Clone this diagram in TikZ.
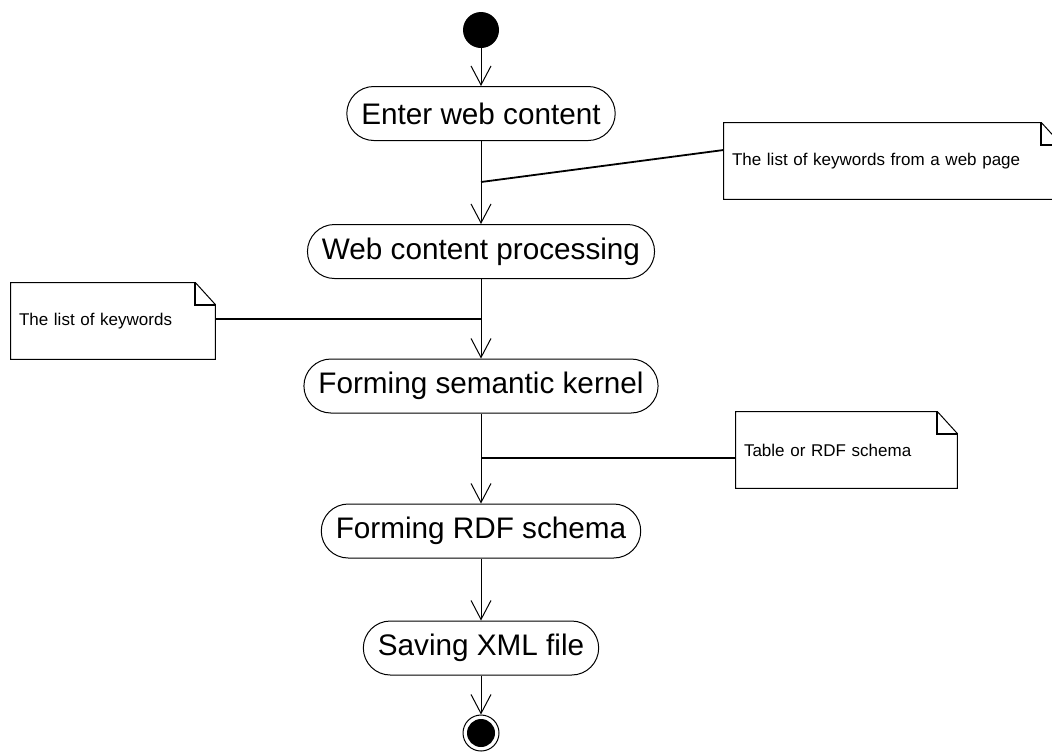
\documentclass[tikz,border=0pt]{standalone}
\usepackage{fontspec}
\setmainfont{Liberation Sans}
\usetikzlibrary{arrows.meta}
\usetikzlibrary{positioning}

\begin{document}
\begin{tikzpicture}[x=0.5pt,y=-0.5pt,>={Straight Barb[length=9.5pt,width=10pt]},
  act/.style={draw,line width=0.5pt,rounded corners=13.5pt,minimum height=27pt,inner xsep=7.25pt,
    font=\fontsize{14.85pt}{17pt}\selectfont},
  note/.style={inner xsep=4pt,inner ysep=0pt,minimum height=38pt,align=left,
    font=\fontsize{8.5pt}{10pt}\selectfont},
  flow/.style={->,line width=0.5pt},
  link/.style={line width=0.9pt}]
  \useasboundingbox (0,0) rectangle (1052,751);
  \clip (0,0) rectangle (1052,751);

  % start and end states
  \node[circle,fill,inner sep=0pt,minimum size=18pt] (start) at (481,30) {};
  \node[circle,draw,line width=0.5pt,inner sep=0pt,minimum size=18pt] (stop) at (481,733) {};
  \fill (stop) circle (7pt);

  % activities
  \node[act] (enter)   at (481,113.5) {Enter web content};
  \node[act] (process) at (481,251.5) {Web content processing};
  \node[act] (kernel)  at (481,386)   {Forming semantic kernel};
  \node[act] (rdf)     at (481,531)   {Forming RDF schema};
  \node[act] (save)    at (481,648)   {Saving XML file};

  % notes
  \node[note,text width=160.5pt] (n1) at (892.5,161) {The list of keywords from a web page};
  \node[note,text width=94pt]    (n2) at (113,321)   {The list of keywords};
  \node[note,text width=102.5pt] (n3) at (846.5,450) {Table or RDF schema};
  \foreach \n in {n1,n2,n3} {
    \draw[line width=0.5pt] (\n.north west) -- ([xshift=-10pt]\n.north east)
      -- ([yshift=-11pt]\n.north east) -- (\n.south east) -- (\n.south west) -- cycle;
    \draw[line width=1pt] ([xshift=-10pt]\n.north east) |- ([yshift=-11pt]\n.north east);
  }

  % control flow
  \draw[flow] (start) -- (enter);
  \draw[flow] (enter) -- (process);
  \draw[flow] (process) -- (kernel);
  \draw[flow] (kernel) -- (rdf);
  \draw[flow] (rdf) -- (save);
  \draw[flow] (save) -- (stop);

  % notes attached to the flows
  \coordinate (j1) at (481,182);
  \coordinate (j2) at (481,319);
  \coordinate (j3) at (481,458);
  \draw[link] ([yshift=5.5pt]n1.west) -- (j1);
  \draw[link] ([yshift=1pt]n2.east) -- (j2);
  \draw[link] ([yshift=-4pt]n3.west) -- (j3);
\end{tikzpicture}
\end{document}
